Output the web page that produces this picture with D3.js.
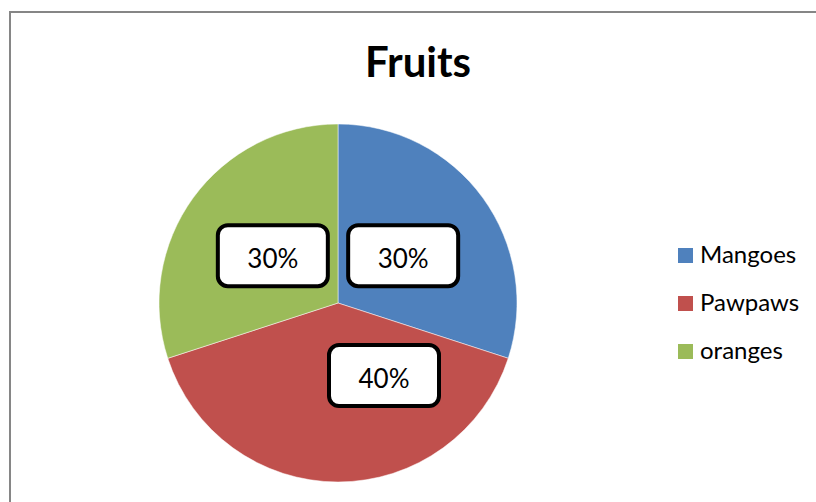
<!DOCTYPE html>
<html>
<head>
<meta charset="utf-8">
<script src="https://cdn.jsdelivr.net/npm/d3@7"></script>
<style>
  body { margin: 0; background: #fff; overflow: hidden; }
  svg { display: block; }
  text { font-family: Lato, "Open Sans", sans-serif; }
</style>
</head>
<body>
<script>
// chart data
var fruits = ["Mangoes", "Pawpaws", "oranges"];
var shares = [30, 40, 30];
var colors = ["#4F81BD", "#C0504D", "#9BBB59"];
var title = "Fruits";

var width = 816, height = 502;
var cx = 338, cy = 303, radius = 179;

// label boxes were dragged by hand in the original; nudge them the same way
var labelNudge = [[0, 0], [46, -8], [0, 0]];

var svg = d3.select("body").append("svg")
    .attr("width", width)
    .attr("height", height);

// chart frame: only the left and top edges are on the page
svg.append("path")
    .attr("d", "M10," + (height + 5) + "V12H" + (width + 5))
    .attr("fill", "none")
    .attr("stroke", "#868686")
    .attr("stroke-width", 2);

svg.append("text")
    .attr("x", 418).attr("y", 77)
    .attr("text-anchor", "middle")
    .attr("font-size", "42px")
    .attr("font-weight", "bold")
    .text(title);

var data = fruits.map((f, i) => ({ name: f, value: shares[i], color: colors[i] }));

var pie = d3.pie().value(d => d.value).sort(null);
var arc = d3.arc().innerRadius(0).outerRadius(radius);
var labelArc = d3.arc().innerRadius(radius * 0.45).outerRadius(radius * 0.45);

var g = svg.append("g").attr("transform", "translate(" + cx + "," + cy + ")");
var arcs = pie(data);

g.selectAll("path")
    .data(arcs)
    .enter().append("path")
    .attr("d", arc)
    .attr("fill", d => d.data.color)
    .attr("stroke", "white")
    .attr("stroke-width", 0.5);

var boxW = 110, boxH = 61;
var labels = g.selectAll("g.lbl")
    .data(arcs)
    .enter().append("g")
    .attr("class", "lbl")
    .attr("transform", (d, i) => {
        var c = labelArc.centroid(d);
        return "translate(" + (c[0] + labelNudge[i][0]) + "," + (c[1] + labelNudge[i][1]) + ")";
    });

labels.append("rect")
    .attr("x", -boxW / 2).attr("y", -boxH / 2)
    .attr("width", boxW).attr("height", boxH)
    .attr("rx", 10).attr("ry", 10)
    .attr("fill", "white")
    .attr("stroke", "black")
    .attr("stroke-width", 4);

labels.append("text")
    .attr("text-anchor", "middle")
    .attr("y", 12)
    .attr("font-size", "26px")
    .text(d => d.data.value + "%");

// legend
var legend = svg.append("g").attr("transform", "translate(678,263)");
var rows = legend.selectAll("g")
    .data(data)
    .enter().append("g")
    .attr("transform", (d, i) => "translate(0," + (i * 48) + ")");

rows.append("rect")
    .attr("y", -15)
    .attr("width", 15).attr("height", 15)
    .attr("fill", d => d.color);

rows.append("text")
    .attr("x", 22)
    .attr("font-size", "24px")
    .text(d => d.name);
</script>
</body>
</html>
